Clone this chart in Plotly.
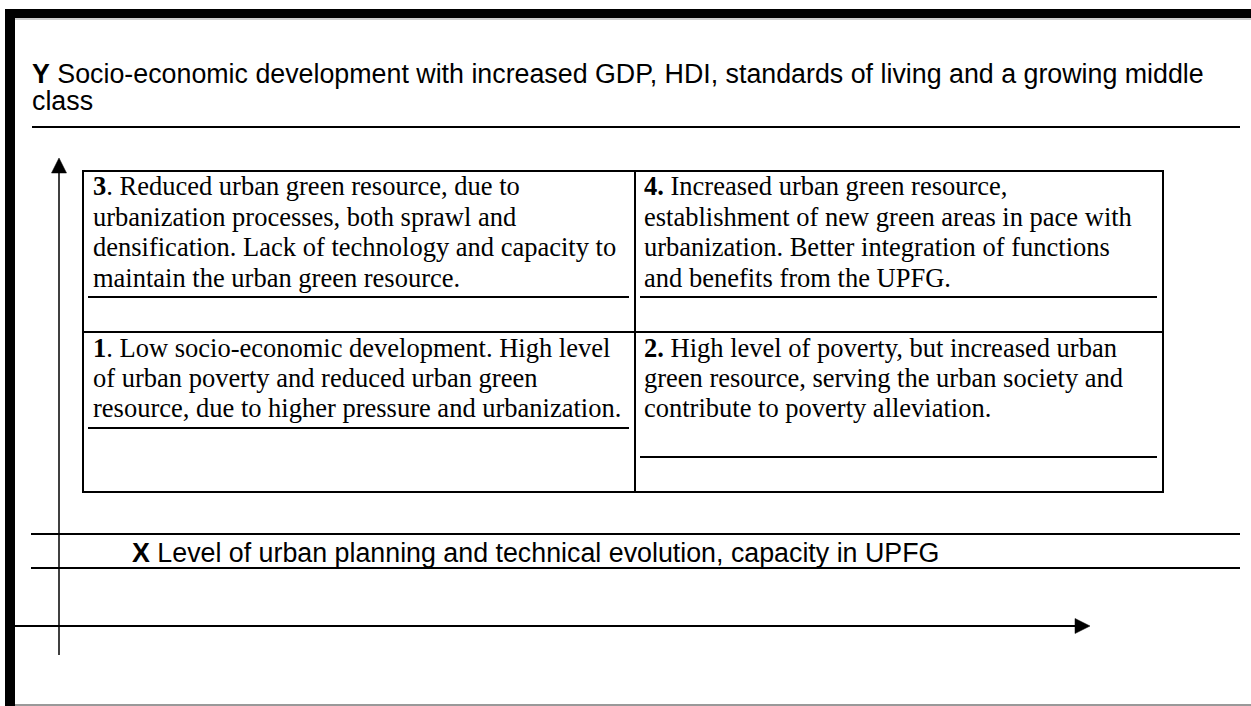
import plotly.graph_objects as go

# ---------------- content ----------------
y_axis_title = [
    "<b>Y</b> Socio-economic development with increased GDP, HDI, standards of living and a growing middle",
    "class",
]
x_axis_title = "<b>X</b> Level of urban planning and technical evolution, capacity in UPFG"

q3_lines = [
    "<b>3</b>. Reduced urban green resource, due to",
    "urbanization processes, both sprawl and",
    "densification. Lack of technology and capacity to",
    "maintain the urban green resource.",
]
q4_lines = [
    "<b>4.</b> Increased urban green resource,",
    "establishment of new green areas in pace with",
    "urbanization. Better integration of functions",
    "and benefits from the UPFG.",
]
q1_lines = [
    "<b>1</b>. Low socio-economic development. High level",
    "of urban poverty and reduced urban green",
    "resource, due to higher pressure and urbanization.",
]
q2_lines = [
    "<b>2.</b> High level of poverty, but increased urban",
    "green resource, serving the urban society and",
    "contribute to poverty alleviation.",
]

# ---------------- layout geometry (pixel space) ----------------
W, H = 1251, 706
SANS = "Liberation Sans, Arial, sans-serif"
SERIF = "Liberation Serif, Times New Roman, serif"
SANS_SIZE = 26.8
SERIF_SIZE = 26.5

tbl_x0, tbl_x1, tbl_y0, tbl_y1 = 83, 1163, 171, 492
tbl_mx, tbl_my = 635, 332
top_baselines = [195, 226, 256.5, 287]
bot_baselines = [357, 387, 417]
left_text_x, right_text_x = 92, 643

fig = go.Figure()

shapes = []


def line(x0, y0, x1, y1, w=2, color="black"):
    shapes.append(dict(type="line", xref="x", yref="y", x0=x0, y0=y0, x1=x1, y1=y1,
                       line=dict(color=color, width=w)))


# outer frame (thick top & left, thin grey bottom)
shapes.append(dict(type="rect", xref="x", yref="y", x0=5, x1=W, y0=9, y1=18,
                   fillcolor="black", line=dict(width=0)))
shapes.append(dict(type="rect", xref="x", yref="y", x0=5, x1=15, y0=9, y1=H,
                   fillcolor="black", line=dict(width=0)))
line(15, 19, W, 19, w=1, color="#9a9a9a")
line(15, 705, W, 705, w=1.5, color="#777777")

# rule under Y title
line(32, 127, 1240, 127)

# table
shapes.append(dict(type="rect", xref="x", yref="y", x0=tbl_x0, x1=tbl_x1, y0=tbl_y0, y1=tbl_y1,
                   line=dict(color="black", width=2)))
line(tbl_mx, tbl_y0, tbl_mx, tbl_y1)
line(tbl_x0, tbl_my, tbl_x1, tbl_my)
# underlines inside cells
line(88, 297, 629, 297)
line(640, 297, 1157, 297)
line(88, 428, 629, 428)
line(640, 457, 1157, 457)

# X title rules
line(31, 534, 1240, 534)
line(31, 568, 1240, 568)

# Y axis arrow
line(59, 172, 59, 655, w=1.5)
shapes.append(dict(type="path", xref="x", yref="y",
                   path="M 59 158 L 51.5 173 L 66.5 173 Z",
                   fillcolor="black", line=dict(color="black", width=0.5)))
# X axis arrow
line(15, 626, 1076, 626, w=2)
shapes.append(dict(type="path", xref="x", yref="y",
                   path="M 1090 626 L 1075 618.5 L 1075 633.5 Z",
                   fillcolor="black", line=dict(color="black", width=0.5)))

annotations = []


def text(x, baseline, s, family, size):
    # yanchor=middle: bbox centre sits ~0.345em above the baseline
    annotations.append(dict(x=x, y=baseline - 0.345 * size, xref="x", yref="y",
                            text=s, showarrow=False, xanchor="left", yanchor="middle",
                            align="left", borderpad=0,
                            font=dict(family=family, size=size, color="black")))


for s, b in zip(y_axis_title, [83, 110]):
    text(31, b, s, SANS, SANS_SIZE)
text(131, 562, x_axis_title, SANS, SANS_SIZE)

for s, b in zip(q3_lines, top_baselines):
    text(left_text_x, b, s, SERIF, SERIF_SIZE)
for s, b in zip(q4_lines, top_baselines):
    text(right_text_x, b, s, SERIF, SERIF_SIZE)
for s, b in zip(q1_lines, bot_baselines):
    text(left_text_x, b, s, SERIF, SERIF_SIZE)
for s, b in zip(q2_lines, bot_baselines):
    text(right_text_x, b, s, SERIF, SERIF_SIZE)

fig.update_layout(
    width=W, height=H,
    margin=dict(l=0, r=0, t=0, b=0),
    paper_bgcolor="white", plot_bgcolor="white",
    xaxis=dict(range=[0, W], visible=False, fixedrange=True),
    yaxis=dict(range=[H, 0], visible=False, fixedrange=True),
    shapes=shapes, annotations=annotations, showlegend=False,
)

# remove the browser's default 8px body margin so pixel coordinates line up
fig.write_html(
    "out.html",
    config={"displayModeBar": False},
    post_script="document.body.style.margin='0';document.body.style.overflow='hidden';",
)
